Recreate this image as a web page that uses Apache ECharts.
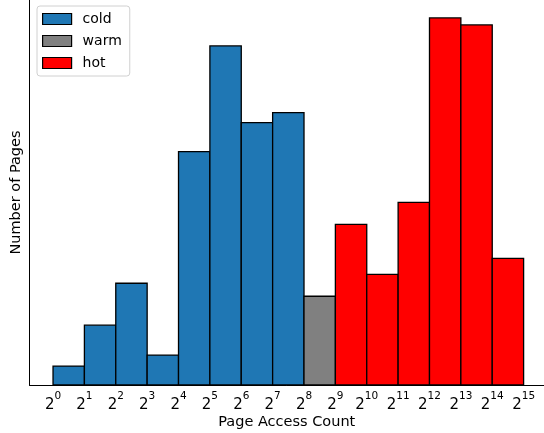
<!DOCTYPE html>
<html>
<head>
<meta charset="utf-8">
<script src="https://cdn.jsdelivr.net/npm/echarts@6/dist/echarts.min.js"></script>
<style>html,body{margin:0;padding:0;background:#fff}#c{width:544px;height:433px}</style>
</head>
<body>
<div id="c"></div>
<script>
// log2 exponents of tick positions
const tickExponents = [0,1,2,3,4,5,6,7,8,9,10,11,12,13,14,15];
// bins start exponents per category
const coldStarts = [0,1,2,3,4,5,6,7];
const coldCounts = [19,60,102,30,234,340,263,273];
const warmStarts = [8];
const warmCounts = [89];
const hotStarts = [9,10,11,12,13,14];
const hotCounts = [161,111,183,368,361,127];

const FONT = 'DejaVu Sans';

function mk(starts, counts){ return starts.map((s,i)=>[s, s+1, counts[i]]); }

function renderItem(params, api){
  const p0 = api.coord([api.value(0), 0]);
  const p1 = api.coord([api.value(1), api.value(2)]);
  return {
    type: 'rect',
    shape: {x: p0[0], y: p1[1], width: p1[0]-p0[0], height: p0[1]-p1[1]},
    style: api.style({stroke: '#000', lineWidth: 1.3})
  };
}

function series(name, color, data){
  return {
    name, type: 'custom', renderItem,
    itemStyle: {color, borderColor: '#000', borderWidth: 1.3},
    encode: {x: [0,1], y: 2},
    data
  };
}

const chart = echarts.init(document.getElementById('c'), null, {renderer: 'canvas'});
chart.setOption({
  animation: false,
  textStyle: {fontFamily: FONT},
  grid: {left: 29.5, right: 0, top: 0, bottom: 48, containLabel: false, outerBoundsMode: 'none'},
  legend: {
    orient: 'vertical', left: 37, top: 6,
    padding: [6, 8, 6, 5],
    borderColor: '#d0d0d0', borderWidth: 1, borderRadius: 3,
    backgroundColor: 'rgba(255,255,255,0.8)',
    itemWidth: 29, itemHeight: 11, itemGap: 8,
    icon: 'rect',
    itemStyle: {borderColor: '#000', borderWidth: 1.2},
    textStyle: {fontFamily: FONT, fontSize: 14, color: '#000', lineHeight: 14, padding: [0,0,0,6]},
    data: ['cold','warm','hot']
  },
  xAxis: {
    type: 'value', min: -0.75, max: 15.65,
    name: 'Page Access Count', nameLocation: 'middle', nameGap: 30,
    nameMoveOverlap: false,
    nameTextStyle: {fontFamily: FONT, fontSize: 14.5, color: '#000'},
    axisLine: {show: true, onZero: false, lineStyle: {color: '#000', width: 1}},
    axisTick: {show: false},
    splitLine: {show: false},
    axisLabel: {
      customValues: tickExponents,
      margin: 6,
      formatter: v => '{b|2}{s|' + v + '}',
      rich: {
        b: {fontFamily: FONT, fontSize: 15, color: '#000', lineHeight: 22, verticalAlign: 'bottom'},
        s: {fontFamily: FONT, fontSize: 10.5, color: '#000', lineHeight: 22, verticalAlign: 'top'}
      }
    }
  },
  yAxis: {
    type: 'value', min: 0, max: 386,
    name: 'Number of Pages', nameLocation: 'middle', nameGap: 6,
    nameMoveOverlap: false,
    nameTextStyle: {fontFamily: FONT, fontSize: 14.5, color: '#000'},
    axisLine: {show: true, onZero: false, lineStyle: {color: '#000', width: 1}},
    axisTick: {show: false}, axisLabel: {show: false}, splitLine: {show: false}
  },
  series: [
    series('cold', '#1f77b4', mk(coldStarts, coldCounts)),
    series('warm', '#808080', mk(warmStarts, warmCounts)),
    series('hot', '#ff0000', mk(hotStarts, hotCounts))
  ]
});
</script>
</body>
</html>
